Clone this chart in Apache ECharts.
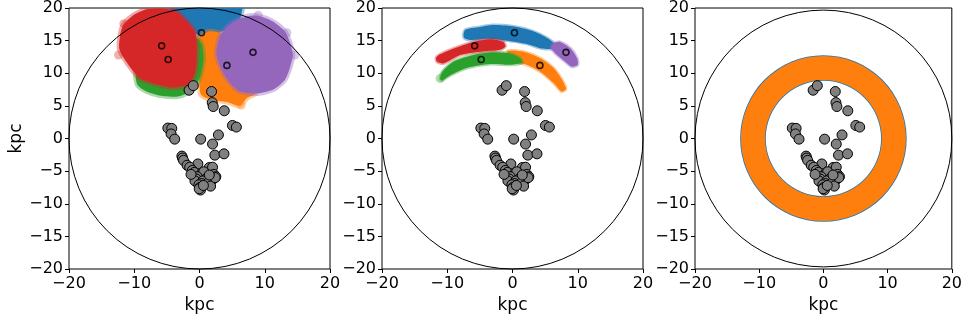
<!DOCTYPE html>
<html>
<head>
<meta charset="utf-8">
<script src="https://cdn.jsdelivr.net/npm/echarts@6/dist/echarts.min.js"></script>
<style>
  html, body { margin: 0; padding: 0; background: #fff; }
  #chart { width: 965px; height: 322px; }
</style>
</head>
<body>
<div id="chart"></div>
<script>
// --- data (kpc) ---
const axisMin = -20
const axisMax = 20
const xStep = 10
const yStep = 5
const haloRadius = 20

// panel 1: cloud outlines
const blueCloud = [[-4.2, 21], [-4.3, 19.3], [-2.5, 17.5], [-0.5, 16.0], [1.5, 15.7], [3.0, 16.2], [4.8, 17.0], [6.0, 17.8], [6.4, 19], [6.5, 21]]
const orangeCloud = [[-0.2, 15.2], [1.4, 16.4], [3, 16.2], [6, 15], [8.5, 12], [9, 8], [8.6, 6.9], [7.3, 6.2], [6.2, 5.0], [4.2, 5.6], [2.1, 5.9], [0.6, 6.4], [0.1, 7.0], [-0.1, 11]]
const greenCloud = [[-9.8, 9.8], [-9.5, 8.2], [-8.1, 7.2], [-6.1, 6.6], [-3.5, 6.4], [-2.0, 6.9], [-0.7, 7.9], [0.1, 9.5], [0.6, 12.0], [0.4, 14.2], [-0.3, 15.3], [-3, 15.8], [-6, 15.5], [-8.5, 14], [-9.8, 12]]
const redCloud = [[-11.7, 17.4], [-10.1, 18.9], [-8.1, 19.8], [-5.0, 19.9], [-3.5, 19.4], [-1.8, 17.8], [-0.6, 16.1], [-0.4, 13.0], [-0.7, 10.0], [-1.7, 8.3], [-4.0, 7.8], [-6.6, 8.3], [-9.1, 9.2], [-10.3, 10.5], [-11.7, 12.5], [-12.3, 13.8], [-12.2, 15.6]]
const purpleCloud = [[5.2, 17.9], [7.2, 18.7], [9.0, 18.8], [11.3, 17.9], [13.1, 16.4], [13.9, 14.6], [14.3, 12.8], [13.9, 11.0], [13.1, 9.0], [11.3, 7.5], [8.8, 6.9], [6.2, 7.2], [4.7, 8.5], [3.4, 10.5], [2.6, 13.0], [3.1, 15.6], [4.2, 17.1]]

// panel 2: stream outlines
const blueArc = [[-7.5, 16.0], [-7.2, 16.7], [-5, 17.1], [-3, 17.4], [0, 17.2], [3, 16.5], [5.5, 15.3], [6.5, 14.4], [6.2, 13.8], [4.5, 13.8], [2.2, 14.5], [-0.8, 15.0], [-3.9, 15.3], [-6.5, 15.1], [-7.4, 15.4]]
const orangeArc = [[-0.8, 13.4], [1.7, 13.3], [4.3, 12.3], [6.3, 10.8], [7.6, 9.0], [8.2, 7.6], [7.5, 7.2], [6.3, 8.5], [4.3, 10.2], [2.2, 11.3], [0.3, 11.8]]
const greenArc = [[-11.1, 9.1], [-10.8, 10.2], [-9.0, 11.8], [-6.0, 12.8], [-2.9, 13.2], [-0.3, 13.0], [1.2, 12.3], [1.5, 11.6], [-0.3, 11.3], [-3.4, 11.4], [-7.0, 10.8], [-9.5, 9.7], [-10.8, 8.9]]
const redArc = [[-11.7, 12.4], [-11.1, 12.9], [-9.0, 13.8], [-6.0, 14.8], [-3.4, 15.2], [-1.4, 14.8], [-1.1, 14.1], [-1.9, 13.6], [-4.9, 13.3], [-8.0, 12.8], [-10.6, 11.5], [-11.6, 11.8]]
const purpleArc = [[5.9, 13.9], [6.3, 14.6], [7.3, 14.8], [8.9, 13.8], [9.9, 12.3], [10.0, 11.3], [9.1, 11.0], [7.8, 12.0], [6.6, 13.0]]

// stray faint points at the cloud edges
const strayRed = [[-12.4, 12.8], [-9.7, 18.4], [-11.6, 17.6]]
const strayPurple = [[14.6, 12.8], [9.0, 18.9], [13.4, 16.2]]
const strayOrange = [[6.4, 5.1]]
const strayGreen = [[-11.1, 9.2]]

// cluster centres: blue, orange, green, red, purple
const centers = [[0.3, 16.2], [4.2, 11.2], [-4.8, 12.1], [-5.8, 14.2], [8.2, 13.2]]

// panel 3: ring
const ringInner = 9.1
const ringOuter = 12.85

// grey points (same in all panels)
const greyPoints = [
  [-1.6, 7.4], [-0.95, 8.1], [1.85, 7.2], [1.95, 5.5], [2.1, 4.9], [3.8, 4.25], [5.05, 2.0], [5.65, 1.75],
  [-4.85, 1.6], [-4.25, 1.55], [-4.35, 0.7], [-3.8, -0.1], [0.18, -0.1], [2.9, 0.55], [2.0, -0.85],
  [2.35, -2.55], [3.75, -2.35], [-2.7, -2.7], [-2.6, -3.0], [-2.45, -3.35], [-0.25, -3.9], [-1.9, -4.1],
  [-1.5, -4.4], [1.5, -4.45], [2.0, -4.4], [-1.1, -4.9], [-0.8, -5.2], [0.4, -5.3], [0.65, -5.1],
  [2.2, -5.5], [2.5, -5.85], [-0.35, -5.85], [-0.5, -6.2], [-0.7, -6.5], [1.1, -6.1], [1.95, -6.35],
  [0.5, -6.5], [0.3, -6.9], [1.2, -6.9], [1.7, -7.3], [-0.1, -7.1], [0.05, -7.5], [0.15, -7.9],
  [-0.05, -7.7], [0.6, -7.2], [2.4, -6.0], [1.5, -5.6], [-1.3, -5.5]
]

const C = { blue: '#1f77b4', orange: '#ff7f0e', green: '#2ca02c', red: '#d62728', purple: '#9467bd' }
const FONT = 'DejaVu Sans'

function rgba(hex, a) {
  const n = parseInt(hex.slice(1), 16)
  return `rgba(${(n >> 16) & 255},${(n >> 8) & 255},${n & 255},${a})`
}

function shapeSeries(outline, color, idx, fringe) {
  return {
    type: 'custom', xAxisIndex: idx, yAxisIndex: idx, clip: true, silent: true,
    data: [0],
    renderItem: (params, api) => ({
      type: 'polygon',
      shape: { points: outline.map((p) => api.coord(p)), smooth: 0.25 },
      style: { fill: color, stroke: rgba(color, 0.4), lineWidth: fringe, lineJoin: 'round' },
    }),
  }
}

function ringSeries(r0, r, color, idx) {
  return {
    type: 'custom', xAxisIndex: idx, yAxisIndex: idx, clip: true, silent: true,
    data: [[0, 0]],
    renderItem: (params, api) => {
      const c = api.coord([api.value(0), api.value(1)])
      return {
        type: 'ring',
        shape: { cx: c[0], cy: c[1], r: api.size([r, 0])[0], r0: api.size([r0, 0])[0] },
        style: { fill: color },
      }
    },
  }
}

function haloSeries(idx) {
  return {
    type: 'custom', xAxisIndex: idx, yAxisIndex: idx, silent: true, z: 3,
    data: [[0, 0]],
    renderItem: (params, api) => {
      const c = api.coord([api.value(0), api.value(1)])
      return {
        type: 'circle',
        shape: { cx: c[0], cy: c[1], r: api.size([haloRadius, 0])[0] },
        style: { fill: 'none', stroke: '#000', lineWidth: 1 },
      }
    },
  }
}

function scatter(data, idx, opts) {
  return Object.assign({
    type: 'scatter', xAxisIndex: idx, yAxisIndex: idx, data, silent: true, z: 4,
    symbolSize: 10,
    itemStyle: { color: '#808080', borderColor: '#000', borderWidth: 1, opacity: 1 },
  }, opts)
}

function stray(data, color, idx) {
  return scatter(data, idx, { z: 2, symbolSize: 9, itemStyle: { color: rgba(color, 0.45), borderWidth: 0 } })
}

function centreMarks(idx) {
  return scatter(centers, idx, { z: 5, symbolSize: 6, itemStyle: { color: 'transparent', borderColor: '#000', borderWidth: 1.6 } })
}

const lefts = [69, 382, 695]
const minus = (v) => String(v).replace('-', '\u2212')

const option = {
  animation: false,
  backgroundColor: '#fff',
  grid: lefts.map((l) => ({ left: l, top: 8, width: 261, height: 261, show: true, borderColor: '#000', borderWidth: 1, backgroundColor: 'transparent' })),
  xAxis: lefts.map((l, i) => ({
    type: 'value', gridIndex: i, min: axisMin, max: axisMax, interval: xStep,
    name: 'kpc', nameLocation: 'middle', nameGap: 27,
    nameTextStyle: { fontFamily: FONT, fontSize: 17, color: '#000' },
    axisLine: { show: false, onZero: false },
    axisTick: { show: true, length: 4, lineStyle: { color: '#000' } },
    axisLabel: { fontFamily: FONT, fontSize: 16, color: '#000', margin: 7, formatter: minus },
    splitLine: { show: false },
  })),
  yAxis: lefts.map((l, i) => ({
    type: 'value', gridIndex: i, min: axisMin, max: axisMax, interval: yStep,
    name: i === 0 ? 'kpc' : '', nameLocation: 'middle', nameGap: 44,
    nameTextStyle: { fontFamily: FONT, fontSize: 17, color: '#000' },
    axisLine: { show: false, onZero: false },
    axisTick: { show: true, length: 4, lineStyle: { color: '#000' } },
    axisLabel: { fontFamily: FONT, fontSize: 16, color: '#000', margin: 6, formatter: minus },
    splitLine: { show: false },
  })),
  series: [
    // panel 1
    shapeSeries(blueCloud, C.blue, 0, 5),
    shapeSeries(orangeCloud, C.orange, 0, 5),
    shapeSeries(greenCloud, C.green, 0, 5),
    shapeSeries(redCloud, C.red, 0, 5),
    shapeSeries(purpleCloud, C.purple, 0, 5),
    stray(strayRed, C.red, 0),
    stray(strayPurple, C.purple, 0),
    stray(strayOrange, C.orange, 0),
    haloSeries(0),
    scatter(greyPoints, 0),
    centreMarks(0),
    // panel 2
    shapeSeries(blueArc, C.blue, 1, 3),
    shapeSeries(orangeArc, C.orange, 1, 3),
    shapeSeries(greenArc, C.green, 1, 3),
    shapeSeries(redArc, C.red, 1, 3),
    shapeSeries(purpleArc, C.purple, 1, 3),
    stray(strayGreen, C.green, 1),
    haloSeries(1),
    scatter(greyPoints, 1),
    centreMarks(1),
    // panel 3
    ringSeries(ringInner - 0.12, ringOuter + 0.12, C.blue, 2),
    ringSeries(ringInner, ringOuter, C.orange, 2),
    haloSeries(2),
    scatter(greyPoints, 2),
  ],
}

const chart = echarts.init(document.getElementById('chart'), null, { renderer: 'canvas' })
chart.setOption(option)
</script>
</body>
</html>
